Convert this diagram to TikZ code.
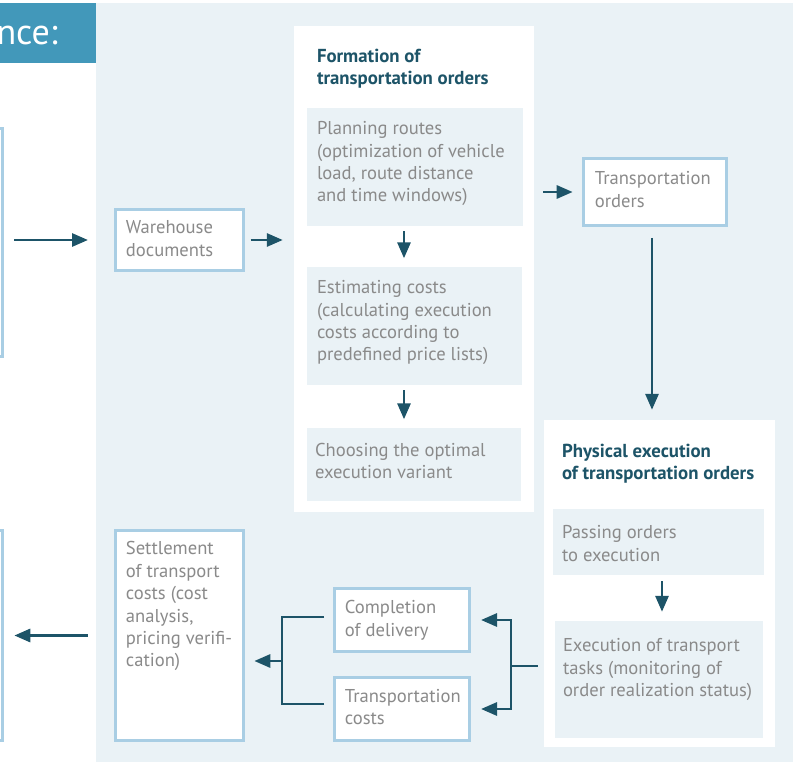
\documentclass[tikz,border=0pt]{standalone}
\usepackage{fontspec}
\setmainfont{PT Sans}
\usetikzlibrary{arrows.meta}
\definecolor{panel}{HTML}{EAF2F6}
\definecolor{titleblue}{HTML}{4298BA}
\definecolor{dark}{HTML}{1D5468}
\definecolor{border}{HTML}{A9CEE4}
\definecolor{textgray}{HTML}{8A8A8A}
\tikzset{
  bbox/.style={draw=border, line width=2.6pt, fill=white, inner sep=0pt},
  graybox/.style={fill=panel, inner sep=0pt},
  whitebox/.style={fill=white, inner sep=0pt},
  txt/.style={anchor=north west, inner sep=0pt, align=left, text=textgray, font=\fontsize{18.6}{22.4}\selectfont},
  ttl/.style={anchor=north west, inner sep=0pt, align=left, text=dark, font=\bfseries\fontsize{18.8}{22.4}\selectfont},
  arr/.style={draw=dark, line width=2.9pt, -{Triangle[length=16pt,width=13pt]}},
  conn/.style={draw=dark, line width=2.9pt}
}
\begin{document}
\begin{tikzpicture}[x=1pt,y=-1pt]
\useasboundingbox (0,0) rectangle (793,762);
\clip (0,0) rectangle (793,762);
\fill[white] (0,0) rectangle (793,762);
\fill[panel] (96,3) rectangle (793,762);
\fill[titleblue] (0,3) rectangle (96,63);
\node[anchor=base east, inner sep=0pt, text=white, font=\fontsize{36}{40}\selectfont] (title) at (58,45) {nce:};

% left clipped boxes
\node[bbox, minimum width=21.4pt, minimum height=228.4pt] (lt) at (-8,242.5) {};
\node[bbox, minimum width=21.4pt, minimum height=210.4pt] (lb) at (-8,635.5) {};

% big white containers
\node[whitebox, minimum width=240pt, minimum height=486pt] (fo) at (414,269) {};
\node[whitebox, minimum width=231pt, minimum height=327pt] (ph) at (659.5,583.5) {};
\node[ttl] (fot) at ([shift={(23,23)}]fo.north west) {Formation of\\transportation orders};
\node[ttl] (pht) at ([shift={(18,23.7)}]ph.north west) {Physical execution\\of transportation orders};

% inner gray boxes
\node[graybox, minimum width=216pt, minimum height=118pt] (pl) at (415,167) {};
\node[txt] (plt) at ([shift={(10,13.5)}]pl.north west) {Planning routes\\(optimization of vehicle\\load, route distance\\and time windows)};
\node[graybox, minimum width=215pt, minimum height=118pt] (es) at (414.5,326) {};
\node[txt] (est) at ([shift={(10,13.5)}]es.north west) {Estimating costs\\(calculating execution\\costs according to\\predefined price lists)};
\node[graybox, minimum width=214pt, minimum height=73pt] (ch) at (414,464.5) {};
\node[txt] (cht) at ([shift={(8,14.8)}]ch.north west) {Choosing the optimal\\execution variant};
\node[graybox, minimum width=211pt, minimum height=66pt] (pa) at (658.5,542) {};
\node[txt] (pat) at ([shift={(9,16.8)}]pa.north west) {Passing orders\\to execution};
\node[graybox, minimum width=208pt, minimum height=117pt] (ex) at (659,679.5) {};
\node[txt] (ext) at ([shift={(8,17.8)}]ex.north west) {Execution of transport\\tasks (monitoring of\\order realization status)};

% bordered boxes
\node[bbox, minimum width=128.4pt, minimum height=61.4pt] (wh) at (179.5,240) {};
\node[txt] (wht) at ([shift={(11.7,12.5)}]wh.north west) {Warehouse\\documents};
\node[bbox, minimum width=128.4pt, minimum height=210.4pt] (se) at (179.5,635.5) {};
\node[txt] (set) at ([shift={(11.7,12.5)}]se.north west) {Settlement\\of transport\\costs (cost\\analysis,\\pricing verifi-\\cation)};
\node[bbox, minimum width=143.4pt, minimum height=67.4pt] (to) at (655,192) {};
\node[txt] (tot) at ([shift={(12.7,14.5)}]to.north west) {Transportation\\orders};
\node[bbox, minimum width=135.4pt, minimum height=63.4pt] (co) at (402,620) {};
\node[txt] (cot) at ([shift={(11.7,13.5)}]co.north west) {Completion\\of delivery};
\node[bbox, minimum width=135.4pt, minimum height=63.4pt] (tc) at (402,709) {};
\node[txt] (tct) at ([shift={(11.7,13)}]tc.north west) {Transportation\\costs};

% connectors
\draw[arr, shorten <=10pt, shorten >=26pt] (wh.west -| lt.east) -- (wh.west);
\draw[arr, shorten <=5.5pt, shorten >=11pt] (wh.east) -- (wh.east -| fo.west);
\draw[arr, shorten <=9pt, shorten >=9.3pt] (to.west -| fo.east) -- (to.west);
\coordinate (a1) at ([xshift=-3pt]to.south);
\draw[arr, shorten <=11pt, shorten >=10pt] (a1) -- (a1 |- ph.north);
\coordinate (a2) at ([xshift=-11pt]pl.south);
\draw[arr, shorten <=5pt, shorten >=8.5pt] (a2) -- (a2 |- es.north);
\coordinate (a3) at ([xshift=-10.5pt]es.south);
\draw[arr, shorten <=5pt, shorten >=8.5pt] (a3) -- (a3 |- ch.north);
\coordinate (a4) at ([xshift=3.5pt]pa.south);
\draw[arr, shorten <=6pt, shorten >=9pt] (a4) -- (a4 |- ex.north);

\coordinate (jr) at (511,666);
\coordinate (a5) at ([xshift=-17pt]ex.west);
\draw[conn] (a5 |- jr) -- (jr);
\draw[arr, shorten >=10pt] (jr) |- (co.east);
\draw[arr, shorten >=10pt] (jr) |- (tc.east);

\coordinate (jl) at (282,661);
\coordinate (a6) at ([xshift=-9pt,yshift=3pt]co.west);
\coordinate (a7) at ([xshift=-9pt,yshift=5pt]tc.west);
\draw[conn] (a6) -| (jl);
\draw[conn] (a7) -| (jl);
\draw[arr, shorten >=9.3pt] (jl) -- (jl -| se.east);
\draw[arr, shorten <=26.3pt, shorten >=10.3pt] (se.west) -- (se.west -| lb.east);
\end{tikzpicture}
\end{document}
